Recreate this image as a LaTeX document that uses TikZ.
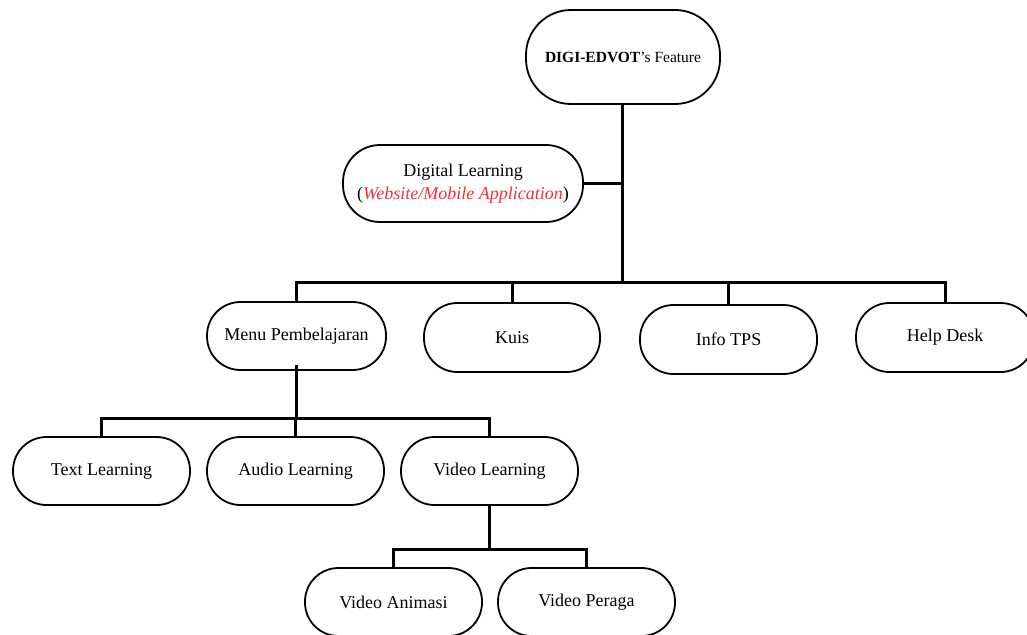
\documentclass[tikz,border=0pt]{standalone}
\usepackage{fontspec}
\setmainfont{Liberation Serif}
\definecolor{appred}{RGB}{236,52,58}
\begin{document}
\begin{tikzpicture}[x=1pt,y=-1pt,
  box/.style={draw=black, line width=1.8pt, rounded corners=33.5pt, inner sep=0pt,
    minimum width=177pt, minimum height=68pt, align=center,
    font=\fontsize{18}{23}\selectfont},
  conn/.style={draw=black, line width=3pt}]
\useasboundingbox (0,0) rectangle (1027,634);
\clip (0,0) rectangle (1027,634);
\node[box, minimum width=194pt, minimum height=94pt, rounded corners=45pt,
  font=\fontsize{15.5}{19}\selectfont] (top) at (623,57) {\textbf{DIGI-EDVOT}'s Feature};
\node[box, minimum width=240pt, minimum height=77pt, rounded corners=37pt] (dl) at (463,183.5)
  {Digital Learning\\(\textcolor{appred}{\textit{Website/Mobile Application}})};
\node[box, minimum width=179pt] (menu) at (296.5,336) {Menu Pembelajaran};
\node[box, minimum width=176pt, minimum height=69pt] (kuis) at (512,337.5) {Kuis};
\node[box, minimum height=69pt] (info) at (728.5,339.5) {Info TPS};
\node[box, minimum width=178pt, minimum height=69pt] (help) at (945,337.5) {Help Desk};
\node[box] (text) at (101.5,471) {Text Learning};
\node[box] (audio) at (295.5,471) {Audio Learning};
\node[box] (video) at (489.5,471) {Video Learning};
\node[box] (anim) at (393.5,602) {Video Animasi};
\node[box] (peraga) at (586.5,602) {Video Peraga};
\coordinate (b1) at (0,282);
\coordinate (b2) at (0,418);
\coordinate (b3) at (0,549);
\coordinate (tr) at (622,0);
% top trunk
\path[conn] (top.south -| tr) -- (tr |- b1);
\path[conn] (dl.east) -- (dl.east -| tr);
% level 1 bar
\path[conn] (menu.north) -- (menu.north |- b1) -- (help.north |- b1) -- (help.north);
\path[conn] (kuis.north) -- (kuis.north |- b1);
\path[conn] (info.north) -- (info.north |- b1);
% level 2
\path[conn] ([yshift=6pt]menu.south) -- (menu.south |- b2);
\path[conn] (text.north) -- (text.north |- b2) -- (video.north |- b2) -- (video.north);
\path[conn] (audio.north) -- (audio.north |- b2);
% level 3
\path[conn] (video.south) -- (video.south |- b3);
\path[conn] (anim.north) -- (anim.north |- b3) -- (peraga.north |- b3) -- (peraga.north);
\end{tikzpicture}
\end{document}
